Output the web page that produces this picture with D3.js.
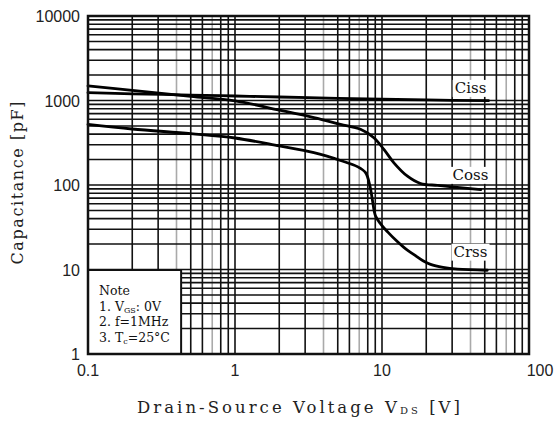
<!DOCTYPE html>
<html><head><meta charset="utf-8">
<script src="https://cdn.jsdelivr.net/npm/d3@7"></script>
<style>body{margin:0;background:#fff}svg{display:block}</style>
</head><body>
<svg id="c" width="556" height="421"></svg>
<script>
// ---- data ----
const xTicks = [0.1, 1, 10, 100];
const xTickLabels = ["0.1", "1", "10", "100"];
const yTicks = [1, 10, 100, 1000, 10000];
const yTickLabels = ["1", "10", "100", "1000", "10000"];
const ciss = [[0.1,1240],[0.2,1200],[0.5,1160],[1,1130],[2,1100],[5,1060],[10,1035],[20,1015],[53,995]];
const coss = [[0.1,1490],[0.2,1316],[0.5,1119],[1,990],[2,770],[3.44,627],[5.22,523],[7.14,456],[8.8,363],[10.3,264],[12.05,183],[14.9,127],[18.3,104],[23.8,99],[30,95],[47,88]];
const crss = [[0.1,523],[0.2,460],[0.5,405],[1,360],[2,290],[3.44,241],[5.22,195],[6.8,165],[7.73,140],[8.28,97],[8.6,67],[9.04,43],[10,33],[11,27.5],[12.5,22],[14.5,17.5],[16.5,15],[19,12.7],[21.4,11.5],[26,10.6],[32.6,10.1],[52,9.8]];
const seriesNames = ["Ciss", "Coss", "Crss"];
const seriesLabelAt = [[40,1230],[40,115],[40,14.2]];
const noteLines = ["Note", "1. V|GS|: 0V", "2. f=1MHz", "3. T|c|=25°C"];

const svg = d3.select("#c");
const L = 88, R = 529, T = 16, B = 354;
const x = d3.scaleLog().domain([0.1, 100]).range([L, R]);
const y = d3.scaleLog().domain([1, 10000]).range([B, T]);

// grid
const g = svg.append("g");
const xMinor = [];
[0.1, 1, 10].forEach(d => { for (let k = 2; k <= 9; k++) xMinor.push(d * k); });
const xMajor = [1, 10];
const yMinor = [];
[1, 10, 100, 1000].forEach(d => { for (let k = 2; k <= 9; k++) yMinor.push(d * k); });
const yMajor = [10, 100, 1000];

g.selectAll(".vx").data(xMinor.concat(xMajor)).join("line")
  .attr("x1", d => x(d)).attr("x2", d => x(d)).attr("y1", T).attr("y2", B)
  .attr("stroke", d => { const m = Math.round(d / Math.pow(10, Math.floor(Math.log10(d) + 1e-9))); return (m === 4 || m === 7) ? "#aaa" : "#111"; })
  .attr("stroke-width", 1.6);
g.selectAll(".hy").data(yMinor.concat(yMajor)).join("line")
  .attr("y1", d => y(d)).attr("y2", d => y(d)).attr("x1", L).attr("x2", R)
  .attr("stroke", "#111").attr("stroke-width", 1.6);

// curves
const line = d3.line().x(d => x(d[0])).y(d => y(d[1])).curve(d3.curveCatmullRom.alpha(0.5));
[ciss, coss, crss].forEach(s => {
  svg.append("path").attr("d", line(s)).attr("fill", "none")
    .attr("stroke", "#000").attr("stroke-width", 2.8).attr("stroke-linecap", "round");
});

// series labels with white background
seriesNames.forEach((n, i) => {
  const t = svg.append("text").attr("x", x(seriesLabelAt[i][0])).attr("y", y(seriesLabelAt[i][1]))
    .attr("text-anchor", "middle").attr("font-family", "DejaVu Serif").attr("font-size", 15)
    .attr("fill", "#111").text(n);
  const bb = t.node().getBBox();
  svg.insert("rect", () => t.node()).attr("x", bb.x - 2).attr("y", bb.y + 1)
    .attr("width", bb.width + 4).attr("height", bb.height - 1).attr("fill", "#fff");
});

// note box
const nb = svg.append("g");
nb.append("rect").attr("x", L).attr("y", 270).attr("width", x(0.43) - L).attr("height", B - 270)
  .attr("fill", "#fff").attr("stroke", "#111").attr("stroke-width", 2);
noteLines.forEach((s, i) => {
  const t = nb.append("text").attr("x", 99).attr("y", 295 + i * 15.5)
    .attr("font-family", "DejaVu Serif").attr("font-size", 12.5).attr("fill", "#111");
  s.split("|").forEach((part, j) => {
    const ts = t.append("tspan").text(part);
    if (j % 2 === 1) ts.attr("font-size", 8).attr("dy", 2);
    else if (j > 0) ts.attr("dy", -2);
  });
});

// frame
svg.append("rect").attr("x", L).attr("y", T).attr("width", R - L).attr("height", B - T)
  .attr("fill", "none").attr("stroke", "#111").attr("stroke-width", 2.5);

// tick labels
svg.selectAll(".xt").data(xTicks).join("text")
  .attr("x", (d, i) => x(d) + (i === xTicks.length - 1 ? 11 : 0)).attr("y", 376)
  .attr("text-anchor", "middle").attr("font-family", "Liberation Sans").attr("font-size", 16)
  .attr("fill", "#222").text((d, i) => xTickLabels[i]);
svg.selectAll(".yt").data(yTicks).join("text")
  .attr("x", 80).attr("y", d => y(d) + 6)
  .attr("text-anchor", "end").attr("font-family", "Liberation Sans").attr("font-size", 16)
  .attr("fill", "#222").text((d, i) => yTickLabels[i]);

// axis titles
const xt = svg.append("text").attr("x", 137).attr("y", 413)
  .attr("font-family", "DejaVu Serif").attr("font-size", 16.5).attr("fill", "#222")
  .attr("textLength", 323).attr("lengthAdjust", "spacing");
xt.append("tspan").text("Drain-Source  Voltage V");
xt.append("tspan").text("DS").attr("font-size", 10).attr("dy", 1);
xt.append("tspan").text(" [V]").attr("dy", -1);

svg.append("text").attr("transform", "translate(23,183) rotate(-90)")
  .attr("text-anchor", "middle").attr("font-family", "DejaVu Serif").attr("font-size", 16)
  .attr("fill", "#222")
  .attr("textLength", 163).attr("lengthAdjust", "spacing")
  .text("Capacitance [pF]");
</script>
</body></html>
